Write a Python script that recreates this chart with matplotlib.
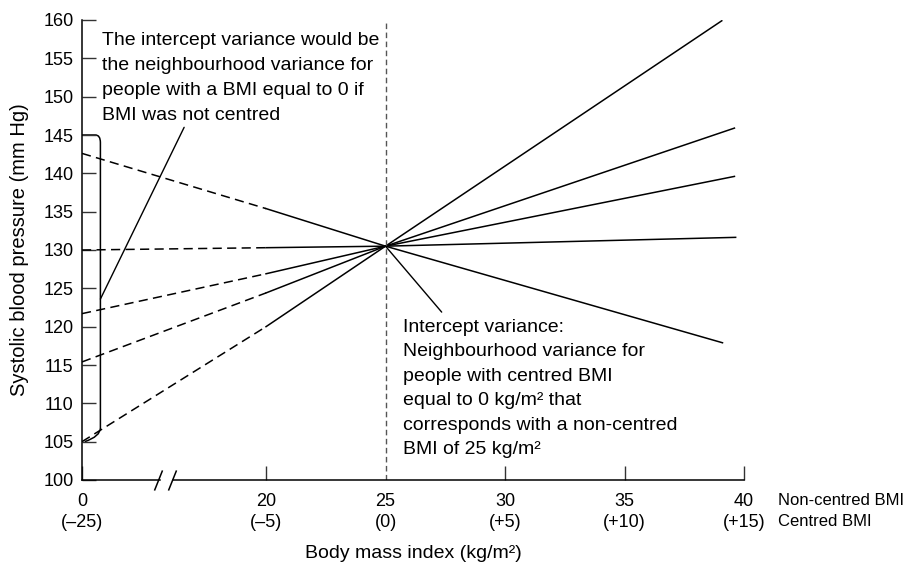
import numpy as np
import matplotlib.pyplot as plt
from matplotlib.path import Path
from matplotlib.patches import PathPatch
from matplotlib.transforms import blended_transform_factory

plt.rcParams['font.family'] = ['Liberation Sans', 'DejaVu Sans']

# Neighbourhood regression lines (systolic BP, mm Hg) at a few BMI values
bmi_start = 0
bmi_switch = 20
bmi_centre = 25
start_bp = [105.0, 115.4, 121.7, 130.0, 142.6]
switch_bp = [120.0, 124.4, 126.9, 130.3, 135.4]
centre_bp = 130.5
end_bmi = [39.07, 39.6, 39.6, 39.65, 39.1]
end_bp = [159.9, 145.9, 139.6, 131.65, 117.9]

# axis ticks
xticks = [0, 20, 25, 30, 35, 40]
centred_labels = ['(–25)', '(–5)', '(0)', '(+5)', '(+10)', '(+15)']
yticks = list(range(100, 161, 5))

# bracket showing the spread of the intercepts at BMI 0
bracket_top = 145.0
bracket_bottom = 105.0

# the stretch between 0 and 20 is squeezed so the axis can be broken
SQUEEZE = 0.385


def forward(x):
    x = np.asarray(x, dtype=float)
    return np.where(x < 20, 20 - (20 - x) * SQUEEZE, x)


def inverse(u):
    u = np.asarray(u, dtype=float)
    return np.where(u < 20, 20 - (20 - u) / SQUEEZE, u)


fig = plt.figure(figsize=(9.23, 5.66), dpi=100)
ax = fig.add_axes([82 / 923, 1 - 480 / 566, 662 / 923, 460 / 566])
ax.set_xscale('function', functions=(forward, inverse))
ax.set_xlim(0, 40)
ax.set_ylim(100, 160)

for s0, s20, e_x, e_y in zip(start_bp, switch_bp, end_bmi, end_bp):
    ax.plot([bmi_start, bmi_switch], [s0, s20], color='black', lw=1.1,
            dashes=(6, 3.5), solid_capstyle='butt')
    ax.plot([bmi_switch, bmi_centre, e_x], [s20, centre_bp, e_y],
            color='black', lw=1.1)

ax.axvline(bmi_centre, color='#555555', lw=1.0, dashes=(4, 2.5))

# bracket
bx = 2.0
verts = [(0, bracket_top), (1.45, bracket_top), (bx, bracket_top), (bx, bracket_top - 1.0),
         (bx, bracket_bottom + 1.8), (bx, bracket_bottom + 0.7), (0.3, bracket_bottom)]
codes = [Path.MOVETO, Path.LINETO, Path.CURVE3, Path.CURVE3,
         Path.LINETO, Path.CURVE3, Path.CURVE3]
ax.add_patch(PathPatch(Path(verts, codes), fill=False, lw=1.1, edgecolor='black'))

# spines and broken x axis
for side in ['top', 'right', 'bottom']:
    ax.spines[side].set_visible(False)
ax.spines['left'].set_linewidth(1.1)
trans = blended_transform_factory(ax.transData, ax.transAxes)
gap_lo, gap_hi = 8.5, 9.9
ax.plot([0, gap_lo], [0, 0], color='black', lw=1.1, transform=trans, clip_on=False)
ax.plot([gap_hi, 40], [0, 0], color='black', lw=1.1, transform=trans, clip_on=False)
ax.plot([8.3, 9.8], [0, 0], ls='none', marker=[(-0.4, -1), (0.4, 1)], ms=14.5,
        mew=1.1, color='black', transform=trans, clip_on=False)

ax.set_xticks(xticks)
ax.set_xticklabels([f'{v}\n{c}' for v, c in zip(xticks, centred_labels)],
                   linespacing=1.35)
ax.set_yticks(yticks)
ax.tick_params(axis='both', direction='in', length=10, width=1.0, color='#333333',
               labelsize=13)
ax.tick_params(axis='x', pad=9)
ax.tick_params(axis='y', pad=6)
ax.xaxis.get_major_ticks()[2].tick1line.set_visible(False)
ax.minorticks_off()

ax.text(1.051, -0.029, 'Non-centred BMI\nCentred BMI', transform=ax.transAxes,
        fontsize=12, ha='left', va='top', linespacing=1.5)

ax.set_xlabel('Body mass index (kg/m²)', fontsize=14)
ax.xaxis.set_label_coords(0.5, -0.141)
ax.set_ylabel('Systolic blood pressure (mm Hg)', fontsize=14.5)
ax.yaxis.set_label_coords(-0.08, 0.5)

# annotations
ax.text(2.2, 158.4,
        'The intercept variance would be\nthe neighbourhood variance for\n'
        'people with a BMI equal to 0 if\nBMI was not centred',
        fontsize=14, ha='left', va='top', linespacing=1.6)
ax.annotate('', xy=(bx, 123.6), xytext=(11.1, 146.0),
            arrowprops=dict(arrowstyle='-', lw=1.0, color='black', shrinkA=0, shrinkB=0))

ax.text(25.75, 121.0,
        'Intercept variance:\nNeighbourhood variance for\npeople with centred BMI\n'
        'equal to 0 kg/m² that\ncorresponds with a non-centred\nBMI of 25 kg/m²',
        fontsize=14, ha='left', va='top', linespacing=1.57)
ax.annotate('', xy=(27.35, 121.9), xytext=(bmi_centre, centre_bp),
            arrowprops=dict(arrowstyle='-', lw=1.0, color='black', shrinkA=0, shrinkB=0))

fig.savefig('out.png', dpi=100)
